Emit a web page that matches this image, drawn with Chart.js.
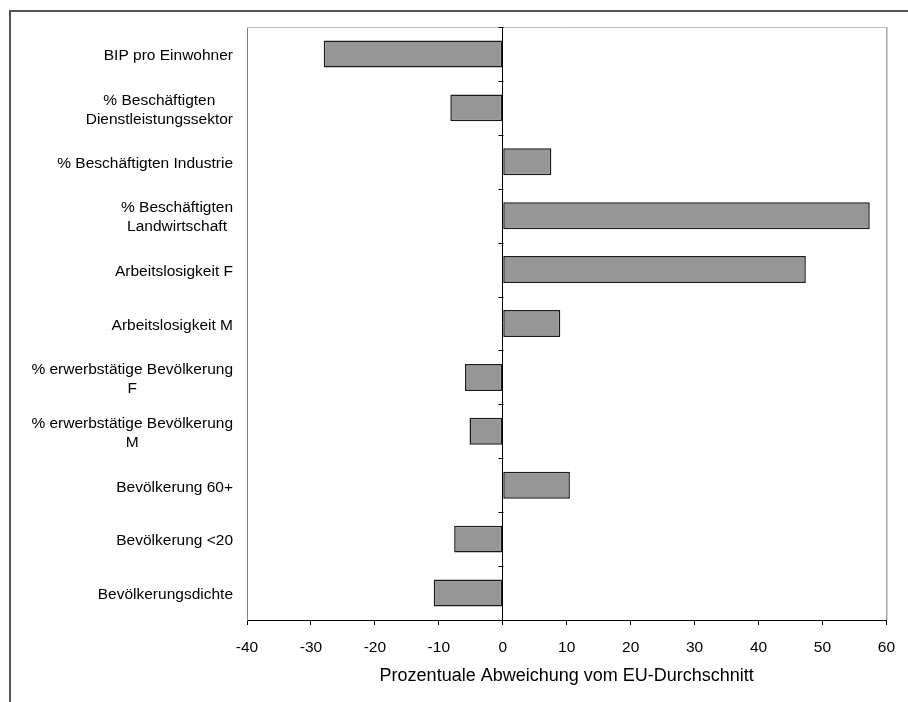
<!DOCTYPE html>
<html>
<head>
<meta charset="utf-8">
<script src="https://cdn.jsdelivr.net/npm/chart.js@4/dist/chart.umd.min.js"></script>
<style>
  html, body { margin: 0; padding: 0; background: #fff; overflow: hidden; }
  #wrap { position: relative; width: 908px; height: 702px; }
  #frame { position: absolute; left: 9px; top: 10px; width: 1000px; height: 1000px;
           border-top: 2px solid #555; border-left: 2px solid #555; }
  canvas { position: absolute; left: 0; top: 0; }
</style>
</head>
<body>
<div id="wrap">
  <div id="frame"></div>
  <canvas id="chart" width="908" height="702"></canvas>
</div>
<script>
const categories = [
  ['BIP pro Einwohner'],
  ['% Beschäftigten', 'Dienstleistungssektor'],
  ['% Beschäftigten Industrie'],
  ['% Beschäftigten', 'Landwirtschaft'],
  ['Arbeitslosigkeit F'],
  ['Arbeitslosigkeit M'],
  ['% erwerbstätige Bevölkerung', 'F'],
  ['% erwerbstätige Bevölkerung', 'M'],
  ['Bevölkerung 60+'],
  ['Bevölkerung <20'],
  ['Bevölkerungsdichte']
];
const deviation = [-28, -8.2, 7.6, 57.4, 47.4, 9.0, -5.9, -5.2, 10.5, -7.6, -10.8];
const xMin = -40, xMax = 60, xStep = 10;
const axisTitle = 'Prozentuale Abweichung vom EU-Durchschnitt';

const FONT = "'Liberation Sans', Arial, sans-serif";

// category labels: block right-aligned, lines centered inside the block (Excel style)
// plus small category ticks on the zero line, and the plot border
const excelBits = {
  id: 'excelBits',
  afterDraw(chart) {
    const { ctx, chartArea: a, scales: { x, y } } = chart;
    ctx.save();
    // plot border (top light, right grey)
    ctx.lineWidth = 1;
    ctx.strokeStyle = '#c0c0c0';
    ctx.beginPath(); ctx.moveTo(a.left, a.top + 0.5); ctx.lineTo(a.right, a.top + 0.5); ctx.stroke();
    ctx.strokeStyle = '#808080';
    ctx.beginPath(); ctx.moveTo(a.right + 0.5, a.top); ctx.lineTo(a.right + 0.5, a.bottom); ctx.stroke();

    // category ticks at x = 0
    const x0 = Math.round(x.getPixelForValue(0)) + 0.5;
    const band = (y.bottom - y.top) / categories.length;
    ctx.strokeStyle = '#000';
    for (let i = 0; i <= categories.length; i++) {
      const py = Math.round(y.getPixelForValue(i) - band / 2) + 0.5;
      ctx.beginPath(); ctx.moveTo(x0 - 5, py); ctx.lineTo(x0, py); ctx.stroke();
    }

    // labels
    ctx.font = '15.5px ' + FONT;
    ctx.fillStyle = '#000';
    ctx.textAlign = 'center';
    ctx.textBaseline = 'middle';
    const right = a.left - 14;
    const lh = 19;
    categories.forEach((lines, i) => {
      const w = Math.max(...lines.map(l => ctx.measureText(l).width));
      const cx = right - w / 2;
      const cy = y.getPixelForValue(i) + 2;
      lines.forEach((l, j) => {
        ctx.fillText(l, cx, cy + (j - (lines.length - 1) / 2) * lh);
      });
    });
    ctx.restore();
  }
};

new Chart(document.getElementById('chart'), {
  type: 'bar',
  data: {
    labels: categories,
    datasets: [{
      data: deviation,
      backgroundColor: '#969696',
      borderColor: '#1a1a1a',
      borderWidth: 1.5,
      borderSkipped: false,
      barPercentage: 0.5,
      categoryPercentage: 1
    }]
  },
  options: {
    indexAxis: 'y',
    responsive: false,
    animation: false,
    devicePixelRatio: 1,
    layout: { padding: { left: 0, top: 27, right: 18, bottom: 0 } },
    plugins: { legend: { display: false }, tooltip: { enabled: false } },
    scales: {
      x: {
        min: xMin,
        max: xMax,
        ticks: { stepSize: xStep, color: '#000', padding: 13, font: { family: FONT, size: 15.5 } },
        grid: {
          color: c => (c.tick && c.tick.value === 0 ? '#000' : 'rgba(0,0,0,0)'),
          tickColor: '#000',
          tickLength: 5
        },
        border: { color: '#000', width: 1 },
        title: {
          display: true,
          text: axisTitle,
          color: '#000',
          font: { family: FONT, size: 18 },
          padding: { top: 0, bottom: 15 }
        },
        afterFit: s => { s.height = 82; }
      },
      y: {
        ticks: { display: false },
        grid: { display: false },
        border: { color: '#808080', width: 1 },
        afterFit: s => { s.width = 247; }
      }
    }
  },
  plugins: [excelBits]
});
</script>
</body>
</html>
